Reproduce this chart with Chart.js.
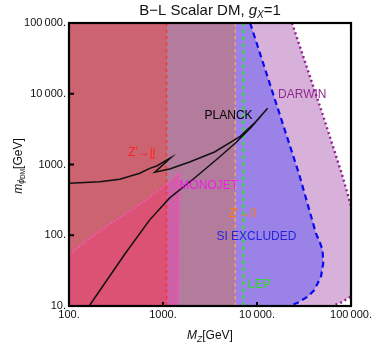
<!DOCTYPE html>
<html><head><meta charset="utf-8">
<script src="https://cdn.jsdelivr.net/npm/chart.js@4.4.0/dist/chart.umd.min.js"></script>
<style>html,body{margin:0;padding:0;background:#fff;}</style>
</head><body>
<canvas id="c" width="374" height="344"></canvas>
<script>
// ---- data ----
const xTicks = [100, 1000, 10000, 100000];
const xTickLabels = ['100.', '1000.', '10\u2009000.', '100\u2009000.'];
const yTicks = [10, 100, 1000, 10000, 100000];
const yTickLabels = ['10.', '100.', '1000.', '10\u2009000.', '100\u2009000.'];

// vertical exclusion limits on M_Z' [GeV]
const zjjLimitMZ = 1087;
const zllLimitMZ = 5860;
const lepLimitMZ = 7180;

// SI direct detection excluded boundary
const siMZ  = [8450, 18000, 28200, 42400, 46500, 49800, 50600, 47900, 40700, 34500, 27000, 22100];
const siMDM = [100000, 4500, 711, 106, 80, 62, 40, 26, 16.8, 13.5, 11.1, 10];

// DARWIN projected boundary
const darwinMZ  = [23550, 51500, 80500, 121000, 132800, 142200, 144500, 136800, 116100, 99100, 77300, 63100];
const darwinMDM = [100000, 4500, 711, 106, 80, 62, 40, 26, 16.8, 13.5, 11.1, 10];

// monojet boundary
const monojetMZ  = [100, 213, 501, 1087, 1503, 1449];
const monojetMDM = [52.6, 115, 243, 513, 771, 10];

// PLANCK relic density curve
const planckMZ  = [100, 213, 347, 566, 722, 857, 1208, 817, 1178, 1918, 3532, 6502, 9615, 12970, 8730, 6050, 3990, 2167, 1178, 722, 393, 164];
const planckMDM = [542, 571, 618, 752, 883, 953, 1247, 776, 863, 1084, 1503, 2448, 3990, 6224, 3388, 2080, 1277, 644, 337, 165, 54.3, 10];

// region labels
const regionLabels = ['DARWIN', 'PLANCK', "Z'\u2192jj", 'MONOJET', "Z'\u2192ll", 'SI EXCLUDED', 'LEP'];
const labelMZ  = [30300, 4980, 594, 3060, 7000, 9860, 10600];
const labelMDM = [9590, 4850, 1456, 497, 200, 94, 19.8];

// ---- styles ----
const labelColors = ['#8E2A8E', '#000000', '#FF2424', '#EE1EE6', '#FF7A14', '#2424DD', '#2ADD2A'];
const FONT = '"Liberation Sans", "DejaVu Sans", sans-serif';
const X_MIN = 100, X_MAX = 100000, Y_MIN = 10, Y_MAX = 100000;

const pts = (xs, ys) => xs.map((v, i) => ({x: v, y: ys[i]}));

function region(points, color, order) {
  return {data: points, fill: 'shape', backgroundColor: color, borderColor: 'rgba(0,0,0,0)',
          borderWidth: 0, pointRadius: 0, pointHoverRadius: 0, order: order};
}
function curve(points, color, width, dash, order) {
  return {data: points, fill: false, borderColor: color, borderWidth: width, borderDash: dash || [],
          pointRadius: 0, pointHoverRadius: 0, order: order, borderCapStyle: 'butt'};
}

const darwinPoly = [{x: X_MIN, y: Y_MAX}, ...pts(darwinMZ, darwinMDM), {x: X_MIN, y: Y_MIN}];
const siPoly = [{x: X_MIN, y: Y_MAX}, ...pts(siMZ, siMDM), {x: X_MIN, y: Y_MIN}];
const zllPoly = [{x: X_MIN, y: Y_MAX}, {x: zllLimitMZ, y: Y_MAX}, {x: zllLimitMZ, y: Y_MIN}, {x: X_MIN, y: Y_MIN}];
const monoPoly = [{x: X_MIN, y: Y_MIN}, ...pts(monojetMZ, monojetMDM)];
const zjjPoly = [{x: X_MIN, y: Y_MAX}, {x: zjjLimitMZ, y: Y_MAX}, {x: zjjLimitMZ, y: Y_MIN}, {x: X_MIN, y: Y_MIN}];
const monoJjPoly = [{x: X_MIN, y: Y_MIN}, ...pts(monojetMZ, monojetMDM).filter(p => p.x <= zjjLimitMZ), {x: zjjLimitMZ, y: Y_MIN}];

const datasets = [
  region(darwinPoly, '#D8B1DB', 100),
  region(siPoly, '#9A82E6', 99),
  region(zllPoly, '#B47C9C', 98),
  region(monoPoly, '#CF5FA6', 97),
  region(zjjPoly, '#CB6370', 96),
  region(monoJjPoly, '#DB5275', 95),
  curve(pts(monojetMZ, monojetMDM), '#FF50C0', 1.6, [2, 2], 9),
  curve([{x: zjjLimitMZ, y: Y_MIN}, {x: zjjLimitMZ, y: Y_MAX}], '#F03C3C', 1.8, [3.5, 3], 8),
  curve([{x: zllLimitMZ, y: Y_MIN}, {x: zllLimitMZ, y: Y_MAX}], '#E9A06C', 1.6, [3.5, 3], 7),
  curve([{x: lepLimitMZ, y: Y_MIN}, {x: lepLimitMZ, y: Y_MAX}], '#2EE62E', 2, [3.5, 3.5], 6),
  curve(pts(siMZ, siMDM), '#0A0AF0', 2.2, [6, 4], 5),
  curve(pts(darwinMZ, darwinMDM), '#8E1E8E', 2.4, [2, 3], 4),
  curve(pts(planckMZ, planckMDM), '#111111', 1.5, [], 1)
];

function rich(ctx, parts, cx, cy) {
  let w = 0;
  parts.forEach(p => { ctx.font = p.f; w += ctx.measureText(p.t).width; });
  let xx = cx - w / 2;
  parts.forEach(p => { ctx.font = p.f; ctx.fillText(p.t, xx, cy + (p.dy || 0)); xx += ctx.measureText(p.t).width; });
}

const overlay = {
  id: 'overlay',
  afterDatasetsDraw(chart) {
    const {ctx, chartArea: a, scales: {x, y}} = chart;
    ctx.save();
    ctx.textAlign = 'center';
    ctx.textBaseline = 'middle';
    ctx.font = '12px ' + FONT;
    regionLabels.forEach((t, i) => {
      ctx.fillStyle = labelColors[i];
      ctx.fillText(t, x.getPixelForValue(labelMZ[i]), y.getPixelForValue(labelMDM[i]));
    });
    // inner tick marks
    ctx.strokeStyle = '#000';
    ctx.lineWidth = 2;
    xTicks.forEach(v => {
      const px = x.getPixelForValue(v);
      ctx.beginPath(); ctx.moveTo(px, a.bottom); ctx.lineTo(px, a.bottom - 4); ctx.stroke();
    });
    yTicks.forEach(v => {
      const py = y.getPixelForValue(v);
      ctx.beginPath(); ctx.moveTo(a.left, py); ctx.lineTo(a.left + 5, py); ctx.stroke();
    });
    // frame
    ctx.lineWidth = 2.2;
    ctx.strokeRect(a.left, a.top, a.right - a.left, a.bottom - a.top);
    // titles
    ctx.fillStyle = '#111';
    ctx.textAlign = 'left';
    ctx.textBaseline = 'alphabetic';
    const cx = (a.left + a.right) / 2;
    rich(ctx, [
      {t: 'B\u2212L Scalar DM, ', f: '15px ' + FONT},
      {t: 'g', f: 'italic 15px ' + FONT},
      {t: 'X', f: 'italic 10px ' + FONT, dy: 3},
      {t: '=1', f: '15px ' + FONT}
    ], cx, 15);
    rich(ctx, [
      {t: 'M', f: 'italic 12px ' + FONT},
      {t: 'Z', f: 'italic 8.5px ' + FONT, dy: 2.5},
      {t: '[GeV]', f: '12px ' + FONT}
    ], cx, 339);
    ctx.save();
    ctx.translate(21.5, 166);
    ctx.rotate(-Math.PI / 2);
    rich(ctx, [
      {t: 'm', f: 'italic 12px ' + FONT},
      {t: '\u03D5', f: 'italic 8.5px ' + FONT, dy: 2.5},
      {t: 'DM', f: '6.5px ' + FONT, dy: 3.5},
      {t: '[GeV]', f: '12px ' + FONT}
    ], 0, 0);
    ctx.restore();
    ctx.restore();
  }
};

new Chart(document.getElementById('c'), {
  type: 'line',
  data: {datasets: datasets},
  options: {
    responsive: false,
    animation: false,
    events: [],
    layout: {padding: {left: 0, top: 23, right: 22, bottom: 0}},
    plugins: {legend: {display: false}, tooltip: {enabled: false}, title: {display: false}},
    scales: {
      x: {
        type: 'logarithmic', min: X_MIN, max: X_MAX,
        afterBuildTicks: s => { s.ticks = xTicks.map(v => ({value: v})); },
        afterFit: s => { s.height = 38; },
        grid: {display: false, drawTicks: false},
        border: {display: false},
        ticks: {autoSkip: false, maxRotation: 0, padding: 2, color: '#111',
                font: {family: FONT, size: 11},
                callback: (v, i) => xTickLabels[i]}
      },
      y: {
        type: 'logarithmic', min: Y_MIN, max: Y_MAX,
        afterBuildTicks: s => { s.ticks = yTicks.map(v => ({value: v})); },
        afterFit: s => { s.width = 69; },
        grid: {display: false, drawTicks: false},
        border: {display: false},
        ticks: {autoSkip: false, padding: 3, color: '#111',
                font: {family: FONT, size: 11},
                callback: (v, i) => yTickLabels[i]}
      }
    }
  },
  plugins: [overlay]
});
</script>
</body></html>
